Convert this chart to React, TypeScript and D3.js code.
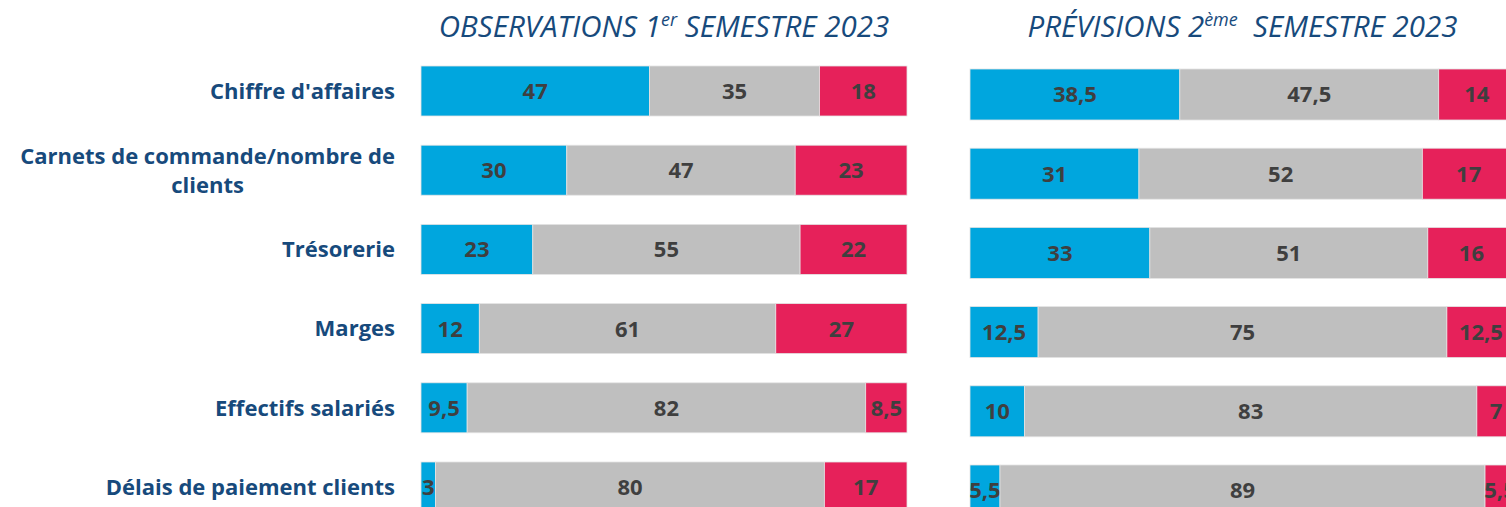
import { useEffect, useRef } from 'react'
import * as d3 from 'd3'

const categories = [
  "Chiffre d'affaires",
  'Carnets de commande/nombre de\nclients',
  'Trésorerie',
  'Marges',
  'Effectifs salariés',
  'Délais de paiement clients',
]

const obsHausse = [47, 30, 23, 12, 9.5, 3]
const obsStable = [35, 47, 55, 61, 82, 80]
const obsBaisse = [18, 23, 22, 27, 8.5, 17]

const prevHausse = [38.5, 31, 33, 12.5, 10, 5.5]
const prevStable = [47.5, 52, 51, 75, 83, 89]
const prevBaisse = [14, 17, 16, 12.5, 7, 5.5]

const seriesKeys = ['hausse', 'stable', 'baisse']
const seriesColors = ['#00a6de', '#bfbfbf', '#e6215a']

const WIDTH = 1506
const HEIGHT = 507
const LABEL_COLOR = '#174a7c'
const VALUE_COLOR = '#3f3f3f'
const FONT = '"Open Sans", Lato, sans-serif'

interface Panel {
  title: string
  sup: string
  rest: string
  hausse: number[]
  stable: number[]
  baisse: number[]
  x0: number
  x1: number
  yTop: number
  yBottom: number
  barH: number
}

const panels: Panel[] = [
  {
    title: 'OBSERVATIONS 1',
    sup: 'er',
    rest: ' SEMESTRE 2023',
    hausse: obsHausse,
    stable: obsStable,
    baisse: obsBaisse,
    x0: 421,
    x1: 907,
    yTop: 91,
    yBottom: 487,
    barH: 50,
  },
  {
    title: 'PRÉVISIONS 2',
    sup: 'ème',
    rest: '  SEMESTRE 2023',
    hausse: prevHausse,
    stable: prevStable,
    baisse: prevBaisse,
    x0: 970,
    x1: 1515,
    yTop: 94.5,
    yBottom: 490.5,
    barH: 51,
  },
]

const fmt = (v: number) => String(v).replace('.', ',')

export default function App() {
  const svgRef = useRef<SVGSVGElement>(null)

  useEffect(() => {
    if (!svgRef.current) return
    const svg = d3.select(svgRef.current)
    svg.selectAll('*').remove()

    // Row labels, right aligned against the left panel
    const yLabels = d3.scalePoint<string>().domain(categories).range([91, 487])
    categories.forEach(cat => {
      const lines = cat.split('\n')
      const cy = yLabels(cat)!
      const lineH = 28
      const first = svg.append('text')
        .attr('x', 395)
        .attr('y', cy - ((lines.length - 1) * lineH) / 2)
        .attr('dy', '0.35em')
        .style('text-anchor', 'end')
        .style('font-family', FONT)
        .style('font-weight', 700)
        .style('font-size', '22px')
        .style('fill', LABEL_COLOR)
        .text(lines[0])
      const w = (first.node() as SVGTextElement).getComputedTextLength()
      lines.slice(1).forEach((line, i) => {
        svg.append('text')
          .attr('x', 395 - w / 2)
          .attr('y', cy - ((lines.length - 1) * lineH) / 2 + (i + 1) * lineH + 1)
          .attr('dy', '0.35em')
          .style('text-anchor', 'middle')
          .style('font-family', FONT)
          .style('font-weight', 700)
          .style('font-size', '22px')
          .style('fill', LABEL_COLOR)
          .text(line)
      })
    })

    panels.forEach(p => {
      const x = d3.scaleLinear().domain([0, 100]).range([p.x0, p.x1])
      const y = d3.scalePoint<string>().domain(categories).range([p.yTop, p.yBottom])

      const rows = categories.map((cat, i) => ({
        cat,
        hausse: p.hausse[i],
        stable: p.stable[i],
        baisse: p.baisse[i],
      }))
      const stacked = d3.stack<any>().keys(seriesKeys)(rows)

      // Title
      const title = svg.append('text')
        .attr('x', (p.x0 + p.x1) / 2)
        .attr('y', 37)
        .style('text-anchor', 'middle')
        .style('font-family', FONT)
        .style('font-style', 'italic')
        .style('font-size', '29.5px')
        .style('white-space', 'pre')
        .style('fill', LABEL_COLOR)
      title.append('tspan').text(p.title)
      title.append('tspan')
        .attr('dy', -11)
        .style('font-size', '18px')
        .text(p.sup)
      title.append('tspan')
        .attr('dy', 11)
        .text(p.rest)

      const g = svg.append('g')

      stacked.forEach((layer, li) => {
        const grp = g.append('g')
        grp.selectAll('rect')
          .data(layer)
          .enter()
          .append('rect')
          .attr('x', d => x(d[0]))
          .attr('y', d => y(d.data.cat)! - p.barH / 2)
          .attr('width', d => x(d[1]) - x(d[0]))
          .attr('height', p.barH)
          .style('fill', seriesColors[li])
          .style('stroke', '#e4e4e4')
          .style('stroke-width', 0.8)

        grp.selectAll('text')
          .data(layer)
          .enter()
          .append('text')
          .attr('x', d => (x(d[0]) + x(d[1])) / 2)
          .attr('y', d => y(d.data.cat)!)
          .attr('dy', '0.36em')
          .style('text-anchor', 'middle')
          .style('font-family', FONT)
          .style('font-weight', 700)
          .style('font-size', '22px')
          .style('fill', VALUE_COLOR)
          .text(d => fmt(d[1] - d[0]))
      })
    })
  }, [])

  return (
    <svg
      ref={svgRef}
      width={WIDTH}
      height={HEIGHT}
      style={{ position: 'absolute', left: 0, top: 0, background: '#ffffff', overflow: 'hidden' }}
    />
  )
}
